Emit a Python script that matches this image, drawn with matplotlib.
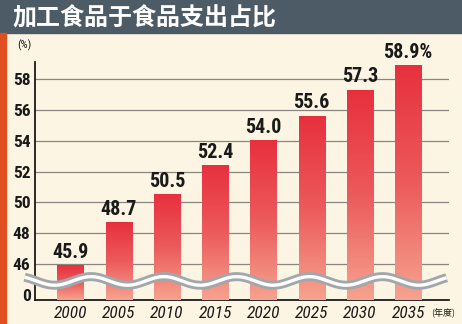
import numpy as np
import matplotlib
matplotlib.use("Agg")
import matplotlib.pyplot as plt
from matplotlib.patches import Rectangle
from matplotlib.colors import LinearSegmentedColormap

years = ["2000", "2005", "2010", "2015", "2020", "2025", "2030", "2035"]
shares = [45.9, 48.7, 50.5, 52.4, 54.0, 55.6, 57.3, 58.9]
value_labels = ["45.9", "48.7", "50.5", "52.4", "54.0", "55.6", "57.3", "58.9%"]
ytick_vals = [44, 46, 48, 50, 52, 54, 56, 58]
ytick_labels = ["0", "46", "48", "50", "52", "54", "56", "58"]

title = "加工食品于食品支出占比"
bg = "#fdf5e3"
narrow = ["Roboto Condensed", "Liberation Sans", "DejaVu Sans"]
cjk = ["Noto Sans CJK SC", "DejaVu Sans"]

fig = plt.figure(figsize=(4.62, 3.24), dpi=100, facecolor=bg)
ax = fig.add_axes([0.0751, 0.0741, 0.897, 0.7355])
ax.set_facecolor(bg)

# header bar and left stripe
fig.patches.append(Rectangle((0, 1 - 33 / 324), 1, 33 / 324, transform=fig.transFigure,
                             color="#4c5b66", zorder=0))
fig.patches.append(Rectangle((0, 0), 6 / 462, 1 - 33 / 324, transform=fig.transFigure,
                             color="#df4f1f", zorder=0))
fig.text(13 / 462, 1 - 18 / 324, title, color="white", fontsize=17.3, fontweight="heavy",
         family=cjk, va="center", ha="left")

x = np.arange(len(years))
bottom = 43.65
ax.set_xlim(-0.74, 7.85)
ax.set_ylim(bottom, 59.15)

cmap = LinearSegmentedColormap.from_list("barfade", ["#f6a38f", "#ec5a5c", "#e7303e"])
grad = np.linspace(0, 1, 256).reshape(-1, 1)
bars = ax.bar(x, np.array(shares) - bottom, bottom=bottom, width=0.54,
              color="none", edgecolor="none", zorder=3)
for b, lab in zip(bars, value_labels):
    x0, y0 = b.get_x(), b.get_y()
    w, h = b.get_width(), b.get_height()
    ax.imshow(grad, extent=(x0, x0 + w, y0, y0 + h), origin="lower", aspect="auto",
              cmap=cmap, zorder=3)
    ax.text(x0 + w / 2, y0 + h + 0.25, lab, ha="center", va="bottom", fontsize=14.5,
            fontweight="bold", family=narrow, color="#1a1a1a", zorder=5)

ax.yaxis.grid(True, color="#8a8580", linewidth=0.9)
ax.set_axisbelow(True)
ax.set_yticks(ytick_vals)
ax.set_yticklabels(ytick_labels, fontsize=12.5, fontweight="bold", family=narrow, color="#1a1a1a")
ax.get_ygridlines()[0].set_visible(False)
ax.set_xticks(x)
ax.set_xticklabels(years, fontsize=12.5, style="italic", family=narrow, color="#1a1a1a")
ax.tick_params(length=0, axis="both")
ax.tick_params(axis="y", pad=3)
ax.tick_params(axis="x", pad=4)
for s in ["top", "right"]:
    ax.spines[s].set_visible(False)
for s in ["left", "bottom"]:
    ax.spines[s].set_linewidth(1.3)
    ax.spines[s].set_color("#1a1a1a")

# axis break wave
wx = np.linspace(-0.95, 7.8, 600)
wy = 44.89 + 0.28 * np.sin(2 * np.pi * (wx - 0.05) / 1.51)
ax.plot(wx, wy, color="#a3a7ab", linewidth=6.5, zorder=6, clip_on=False, solid_capstyle="butt")
ax.plot(wx, wy, color="white", linewidth=2.4, zorder=7, clip_on=False, solid_capstyle="butt")

fig.text(17 / 462, 1 - 45 / 324, "(%)", fontsize=8, family=narrow, color="#1a1a1a",
         va="center", ha="left")
fig.text(443 / 462, 1 - 313 / 324, "(年度)", fontsize=6.5, family=cjk, color="#1a1a1a",
         va="center", ha="center")

fig.savefig("out.png", dpi=100, facecolor=bg)
